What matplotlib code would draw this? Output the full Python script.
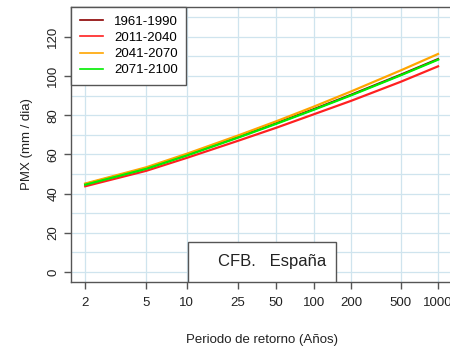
import numpy as np
import matplotlib.pyplot as plt
from matplotlib.patches import Rectangle

plt.rcParams['font.family'] = ['Liberation Sans', 'DejaVu Sans']

# DATA
periodo = [2, 5, 10, 25, 50, 100, 200, 500, 1000]       # return period (years)
p1961 = [44.8, 52.9, 59.7, 68.8, 75.8, 83.0, 90.4, 100.6, 108.6]
p2011 = [43.7, 51.6, 58.2, 66.9, 73.5, 80.4, 87.3, 97.0, 104.9]
p2041 = [45.1, 53.4, 60.3, 69.6, 76.8, 84.3, 92.1, 102.8, 111.2]
p2071 = [44.5, 52.6, 59.4, 68.5, 75.5, 82.7, 90.1, 100.3, 108.3]
etiquetas = ['1961-1990', '2011-2040', '2041-2070', '2071-2100']
colores = ['#8b0000', '#ff2020', '#ffa500', '#00ee00']
xticks = [2, 5, 10, 25, 50, 100, 200, 500, 1000]
yticks = [0, 20, 40, 60, 80, 100, 120]


# gumbel reduced variate scale
def fwd(t):
    t = np.asarray(t, dtype=float)
    with np.errstate(all='ignore'):
        return -np.log(-np.log(1 - 1 / t))


def inv(y):
    y = np.asarray(y, dtype=float)
    with np.errstate(all='ignore'):
        return 1 / (1 - np.exp(-np.exp(-y)))


fig = plt.figure(figsize=(4.5, 3.47), dpi=100)
ax = fig.add_axes([0.158, 0.187, 0.847, 0.793])
ax.set_xscale('function', functions=(fwd, inv))

gris = '#555555'
rejilla = '#cfe4ee'

# grid
ax.set_yticks(yticks)
ax.set_yticks(np.arange(10, 140, 20), minor=True)
ax.set_xticks(xticks)
ax.set_xticklabels([str(t) for t in xticks])
ax.grid(True, which='both', color=rejilla, lw=0.9)
ax.set_axisbelow(True)
ax.tick_params(axis='y', which='minor', length=0)
ax.tick_params(axis='both', which='major', length=5, color=gris, labelsize=9.5,
               labelcolor='#222222', width=1)
ax.tick_params(axis='x', pad=6)
plt.setp(ax.get_yticklabels(), rotation=90, va='center')

series = [p1961, p2011, p2041, p2071]
for vals, lab, col in zip(series, etiquetas, colores):
    ax.plot(periodo, vals, color=col, lw=1.6, label=lab)

ax.set_xlim(inv(0.105), inv(7.17))
ax.set_ylim(-5.2, 135.2)

for s in ax.spines.values():
    s.set_color(gris)
    s.set_linewidth(1)

ax.set_xlabel('Periodo de retorno (Años)', fontsize=9.5, color='#222222', labelpad=18)
ax.set_ylabel('PMX (mm / dia)', fontsize=9.5, color='#222222', labelpad=10)

leg = ax.legend(loc='upper left', bbox_to_anchor=(0, 1), borderaxespad=0,
                fancybox=False, framealpha=1, edgecolor=gris, fontsize=9.5,
                handlelength=1.8, handletextpad=0.8, borderpad=0.65,
                labelspacing=0.3)
leg.get_frame().set_linewidth(1)
for h in leg.get_lines():
    h.set_linewidth(1.2)

# text box at the bottom
ax.add_patch(Rectangle((0.307, 0.0), 0.389, 0.145, transform=ax.transAxes,
                       facecolor='white', edgecolor=gris, lw=1, zorder=5))
ax.text(0.528, 0.075, 'CFB.   España', transform=ax.transAxes, fontsize=12,
        ha='center', va='center', color='#222222', zorder=6)

fig.savefig('out.png', dpi=100)
